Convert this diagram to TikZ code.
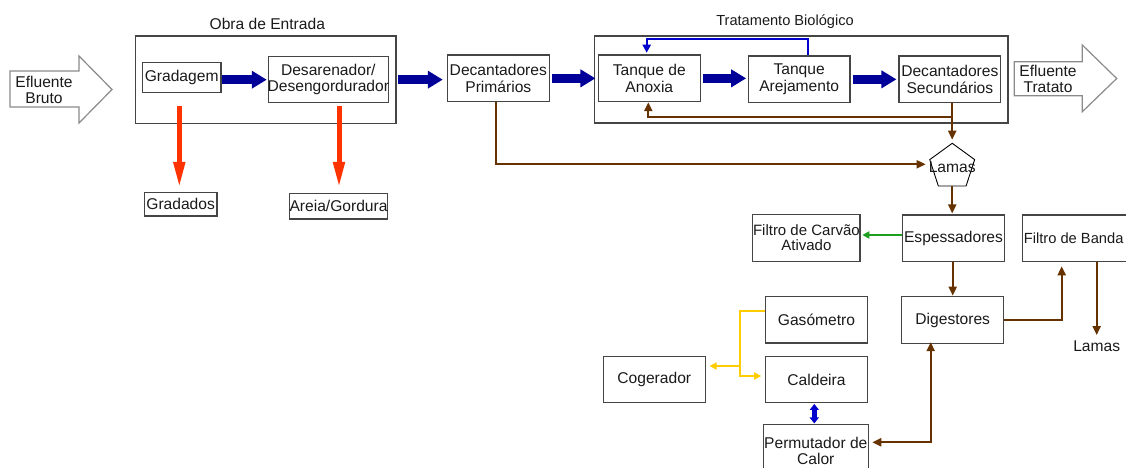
\documentclass[tikz,border=0pt]{standalone}
\usepackage{fontspec}
\setmainfont{Liberation Sans}
\usetikzlibrary{arrows.meta,calc,shapes.geometric}

\definecolor{navyflow}{HTML}{000099}
\definecolor{residue}{HTML}{FF3300}
\definecolor{sludge}{HTML}{663300}
\definecolor{biogas}{HTML}{FFCC00}
\definecolor{odour}{HTML}{1E9E1E}
\definecolor{recirc}{HTML}{0000CC}
\definecolor{boxline}{HTML}{454545}
\definecolor{inkdark}{HTML}{1A1A1A}
\definecolor{hollow}{HTML}{8A8A8A}

\newcommand\flowfont{\fontsize{15.6}{16.2}\selectfont}
\newcommand\titlefont{\fontsize{14.6}{16}\selectfont}

\begin{document}
\begin{tikzpicture}[x=1pt,y=-1pt,
  proc/.style={draw=boxline, line width=1.1pt, align=center, inner sep=0pt,
    text=inkdark, font=\flowfont},
  stage/.style={draw=boxline, line width=1.1pt, inner sep=0pt},
  caption/.style={inner sep=0pt, text=inkdark, font=\titlefont},
  plain/.style={inner sep=0pt, text=inkdark, font=\flowfont, align=center},
  bigflow/.style={draw=navyflow, line width=9pt,
    -{Triangle[length=15pt,width=17pt]}},
  waste/.style={draw=residue, line width=5pt,
    -{Triangle[length=26pt,width=11pt]}},
  sludgeline/.style={draw=sludge, line width=2pt,
    -{Triangle[length=9pt,width=8pt]}},
  sludgeboth/.style={draw=sludge, line width=2pt,
    {Triangle[length=9pt,width=8pt]}-{Triangle[length=9pt,width=8pt]}},
  gasline/.style={draw=biogas, line width=2pt,
    -{Triangle[length=7pt,width=7pt]}},
  airline/.style={draw=odour, line width=2pt,
    -{Triangle[length=7pt,width=7pt]}},
  recline/.style={draw=recirc, line width=2pt,
    -{Triangle[length=8pt,width=8pt]}},
  heatline/.style={draw=recirc, line width=4.5pt,
    {Triangle[length=6pt,width=9pt]}-{Triangle[length=6pt,width=9pt]}},
  hollowarrow/.style={draw=hollow, line width=1.2pt, fill=white, line join=miter}
]
\useasboundingbox (0,0) rectangle (1126,468);

% inlet and outlet block arrows
\draw[hollowarrow] (10,71) -- (79,71) -- (79,56) -- (112,89.5) -- (79,123)
  -- (79,107) -- (10,107) -- cycle;
\node[plain] (bruto) at (44,90) {Efluente\\Bruto};
\draw[hollowarrow] (1014.3,61.7) -- (1082.3,61.7) -- (1082.3,45) -- (1116.7,78.5)
  -- (1082.3,111.7) -- (1082.3,95.7) -- (1014.3,95.7) -- cycle;
\node[plain] (tratado) at (1048,79.3) {Efluente\\Tratato};

% stage enclosures and their titles
\node[stage, minimum width=260.7pt, minimum height=87.3pt] (obra) at (265.65,79.65) {};
\node[caption, font=\flowfont] (obratitle) at (267.3,24) {Obra de Entrada};
\node[stage, minimum width=413.7pt, minimum height=87pt] (trat) at (801.15,79.5) {};
\node[caption] (trattitle) at (785,21.5) {Tratamento Biológico};

% process units
\node[proc, minimum width=78.7pt, minimum height=29.6pt] (grad) at (181.65,77.5) {Gradagem};
\node[proc, minimum width=120pt, minimum height=46pt] (desar) at (328.3,79.7)
  {\makebox[0pt]{Desarenador/}\\\makebox[0pt]{Desengordurador}};
\node[proc, minimum width=72.7pt, minimum height=23.7pt] (gradados) at (180.65,204.15) {Gradados};
\node[proc, minimum width=93.6pt, minimum height=25.7pt] (areia) at (338.5,206.15) {Areia/Gordura};
\node[proc, minimum width=102pt, minimum height=46.7pt] (decp) at (498.3,78.35) {Decantadores\\Primários};
\node[proc, minimum width=102pt, minimum height=46.7pt] (anox) at (649.3,78.35) {Tanque de\\Anoxia};
\node[proc, minimum width=101.7pt, minimum height=46.7pt] (arej) at (799.15,79.35) {Tanque\\Arejamento};
\node[proc, minimum width=101.7pt, minimum height=46.7pt] (decs) at (949.85,79.35) {Decantadores\\Secundários};
\node[regular polygon, regular polygon sides=5, minimum size=47.2pt, inner sep=0pt,
  draw=black, line width=0.9pt, text=inkdark, font=\flowfont] (lamas) at (952.2,166.9)
  {\makebox[0pt]{Lamas}};
\node[proc, minimum width=101.6pt, minimum height=46.7pt] (espess) at (953.5,238.35) {Espessadores};
\node[proc, minimum width=107.3pt, minimum height=47.4pt, font=\fontsize{15}{15}\selectfont] (carvao) at (806.35,238)
  {\makebox[0pt]{Filtro de Carvão}\\\makebox[0pt]{Ativado}};
\node[proc, minimum width=105.7pt, minimum height=46.7pt, font=\fontsize{14.7}{16}\selectfont] (banda) at (1075.15,238.35)
  {\makebox[105.7pt][l]{\hspace{1.5pt}Filtro de Banda}};
\node[proc, minimum width=102pt, minimum height=46.6pt] (dig) at (952.7,320) {Digestores};
\node[plain] (lamasout) at (1096.7,346.7) {Lamas};
\node[proc, minimum width=101.6pt, minimum height=46.3pt] (gas) at (816.5,319.85) {Gasómetro};
\node[proc, minimum width=101.6pt, minimum height=46.4pt] (cald) at (816.5,379.5) {Caldeira};
\node[proc, minimum width=102pt, minimum height=46.4pt] (cog) at (654.3,379.5) {Cogerador};
\node[proc, minimum width=105pt, minimum height=52pt] (perm) at (815.8,450.7) {Permutador de\\Calor};

% main liquid line
\draw[bigflow, shorten >=1pt] (grad.east |- desar.west) -- (desar.west);
\draw[bigflow, shorten <=1.5pt, shorten >=4pt] (obra.east) -- (obra.east -| decp.west);
\draw[bigflow, shorten <=2.4pt, shorten >=2.3pt] (decp.east) -- (decp.east -| anox.west);
\draw[bigflow, shorten <=2pt, shorten >=1.6pt] (anox.east) -- (anox.east -| arej.west);
\draw[bigflow, shorten <=2pt, shorten >=2pt] (arej.east) -- (arej.east -| decs.west);

% screenings and grit removal
\draw[waste] ($(grad.south)+(-2.35,13.4)$) -- ($(gradados.north)+(-1.35,-4)$);
\draw[waste] ($(desar.south)+(10.7,3)$) -- ($(areia.north)+(0.5,-5)$);

% internal recirculation (nitrate)
\draw[recline] ($(arej.north)+(8.55,0)$) |- ($(anox.north)+(-2.6,-15.7)$)
  -- ($(anox.north)+(-2.6,-1.7)$);

% sludge lines
\draw[sludgeline, shorten >=3pt] (decs.south -| lamas.north) -- (lamas.north);
\draw[sludgeline] ($(decs.south -| lamas.north)+(0,13.3)$) -| ($(anox.south)+(-1,0)$);
\draw[sludgeline, shorten >=6pt] ($(decp.south)+(-2.6,0)$) |- ($(lamas.west)+(0,-2.6)$);
\draw[sludgeline, shorten >=1pt] (lamas.south) -- (lamas.south |- espess.north);
\draw[sludgeline, shorten >=0.5pt] (dig.north |- espess.south) -- (dig.north);
\draw[sludgeline, shorten >=4pt] (dig.east) -| ($(banda.south)+(-13.45,0)$);
\draw[sludgeline, shorten >=6pt] (lamasout.north |- banda.south) -- (lamasout.north);
\draw[sludgeboth, shorten <=-1.7pt] (dig.south) ++(-22,0) |- ($(perm.east)+(3.4,-8.4)$);

% odour treatment
\draw[airline] ($(espess.west)+(0,-3.35)$) -- ($(carvao.east)+(1.7,-3)$);

% biogas lines
\draw[gasline] ($(gas.west)+(0,-9.15)$) -| ($(cald.west)+(-24.7,-3.5)$)
  -- ($(cald.west)+(-4,-3.5)$);
\draw[gasline] ($(cald.west)+(-24.7,-13.5)$) -- ($(cog.east)+(3.7,-13.5)$);

% heating circuit
\draw[heatline] ($(cald.south)+(-2.2,0.7)$) -- ($(cald.south |- perm.north)+(-2.2,-0.7)$);

\end{tikzpicture}
\end{document}
